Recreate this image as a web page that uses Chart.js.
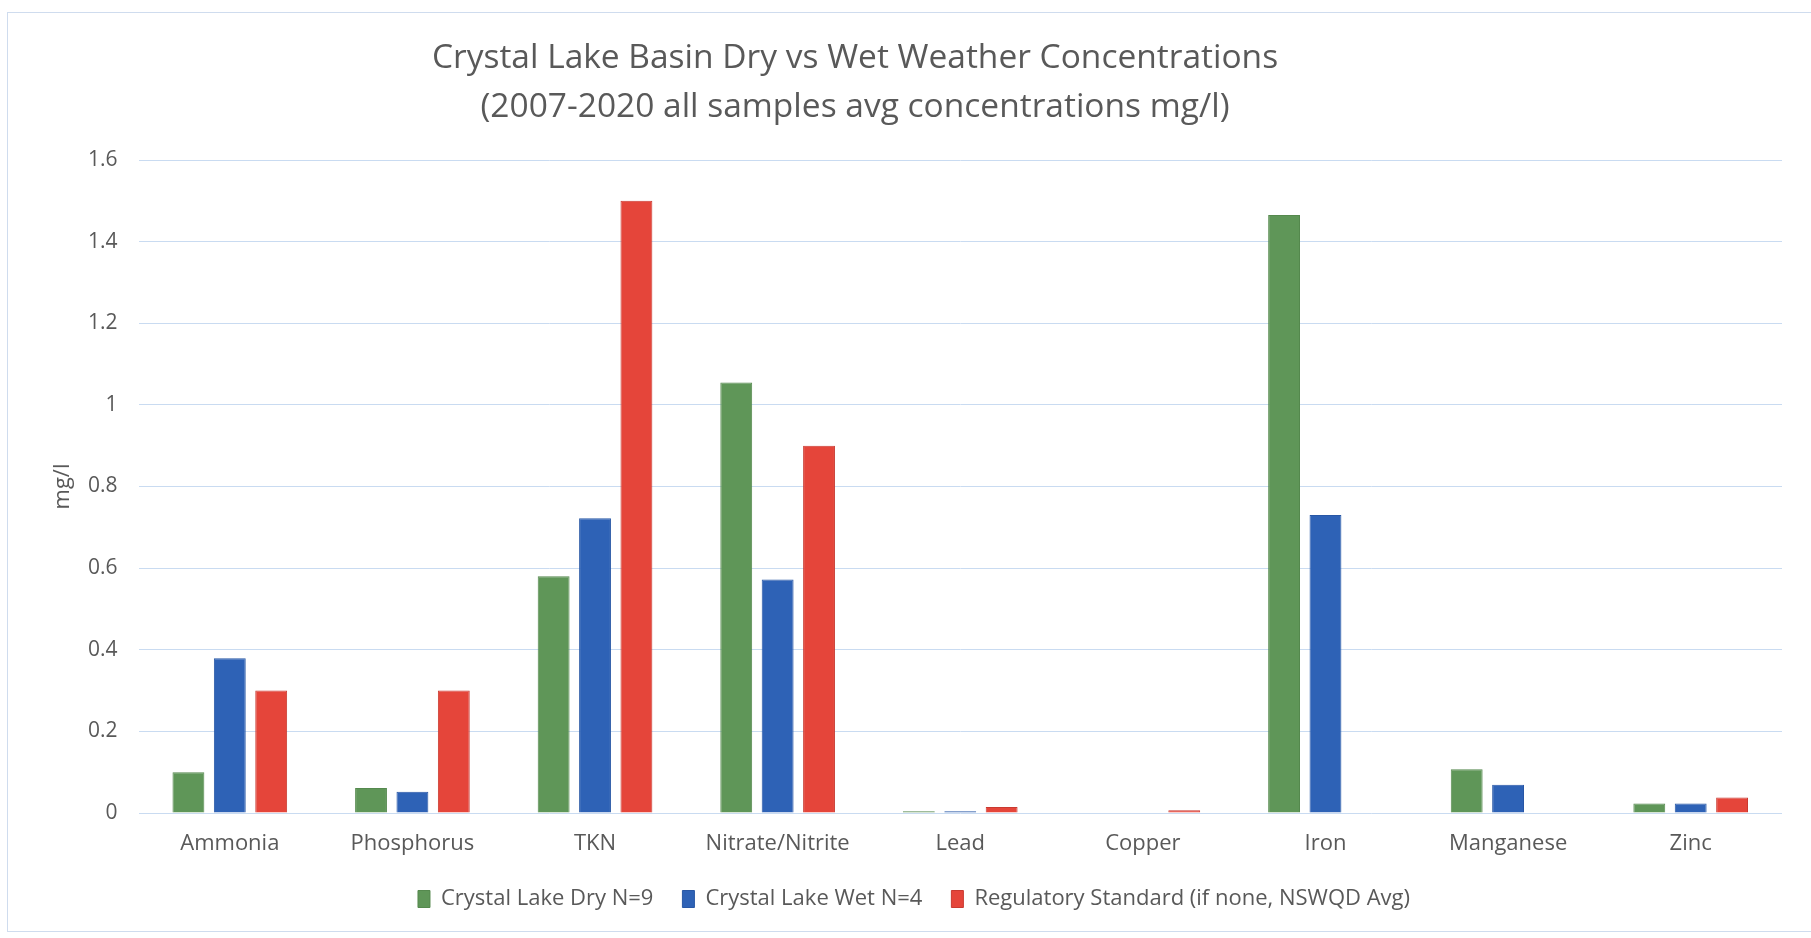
<!DOCTYPE html>
<html>
<head>
<meta charset="utf-8">
<script src="https://cdn.jsdelivr.net/npm/chart.js@4.4.1/dist/chart.umd.min.js"></script>
<style>
  html, body { margin: 0; padding: 0; background: #fff; }
  #wrap { position: relative; width: 1811px; height: 938px; overflow: hidden; }
  #frame { position: absolute; left: 7px; top: 12px; width: 1810px; height: 918px;
           border-left: 1px solid #cfdcee; border-top: 1px solid #cfdcee; border-bottom: 1px solid #cfdcee; }
  #title { position: absolute; left: 0; top: 31px; width: 1710px; text-align: center;
           font-family: "Open Sans", sans-serif; font-size: 33.5px; line-height: 49px; color: #595959; }
  canvas { position: absolute; left: 0; top: 0; }
</style>
</head>
<body>
<div id="wrap">
  <div id="frame"></div>
  <canvas id="chart" width="1811" height="938"></canvas>
  <div id="title">Crystal Lake Basin Dry vs Wet Weather Concentrations<br>(2007-2020 all samples avg concentrations mg/l)</div>
</div>
<script>
// categories et valeurs
const categories = ['Ammonia', 'Phosphorus', 'TKN', 'Nitrate/Nitrite', 'Lead', 'Copper', 'Iron', 'Manganese', 'Zinc'];
const dryValues = [0.10, 0.061, 0.58, 1.055, 0.004, 0, 1.465, 0.107, 0.023];
const wetValues = [0.379, 0.052, 0.722, 0.572, 0.004, 0, 0.73, 0.069, 0.023];
const standardValues = [0.30, 0.30, 1.50, 0.90, 0.015, 0.007, 0, 0, 0.038];
const yTicks = [0, 0.2, 0.4, 0.6, 0.8, 1, 1.2, 1.4, 1.6];

const seriesNames = ['Crystal Lake Dry N=9', 'Crystal Lake Wet N=4', 'Regulatory Standard (if none, NSWQD Avg)'];

const textColor = '#595959';
const font = 'Open Sans';

const ctx = document.getElementById('chart').getContext('2d');

new Chart(ctx, {
  type: 'bar',
  data: {
    labels: categories,
    datasets: [
      {
        label: seriesNames[0],
        data: dryValues,
        backgroundColor: '#5f9658',
        borderColor: '#55894e',
        borderWidth: 1,
      },
      {
        label: seriesNames[1],
        data: wetValues,
        backgroundColor: '#2e62b6',
        borderColor: '#2857a5',
        borderWidth: 1,
      },
      {
        label: seriesNames[2],
        data: standardValues,
        backgroundColor: '#e5453a',
        borderColor: '#c93a30',
        borderWidth: 1,
      }
    ]
  },
  options: {
    responsive: false,
    animation: false,
    categoryPercentage: 0.68,
    barPercentage: 0.77,
    layout: {
      padding: { top: 160, left: 46, right: 29, bottom: 18 }
    },
    scales: {
      x: {
        grid: { display: false, drawTicks: false },
        border: { display: false },
        ticks: {
          color: textColor,
          padding: 20,
          font: { family: font, size: 22, lineHeight: 1 }
        },
        afterFit: (scale) => { scale.height = 46; }
      },
      y: {
        min: 0,
        max: 1.6,
        afterBuildTicks: (scale) => { scale.ticks = yTicks.map(v => ({ value: v })); },
        grid: { color: '#c9dbf1', lineWidth: 1, drawTicks: false },
        border: { display: false },
        ticks: {
          color: textColor,
          padding: 21,
          font: { family: font, size: 21 },
          callback: (v) => String(v)
        },
        title: {
          display: true,
          text: 'mg/l',
          color: textColor,
          font: { family: font, size: 22 }
        },
        afterFit: (scale) => { scale.width = 92.5; }
      }
    },
    plugins: {
      legend: {
        position: 'bottom',
        labels: {
          color: textColor,
          boxWidth: 12,
          boxHeight: 17,
          padding: 29,
          font: { family: font, size: 22 }
        }
      },
      tooltip: { enabled: false }
    }
  }
});
</script>
</body>
</html>
